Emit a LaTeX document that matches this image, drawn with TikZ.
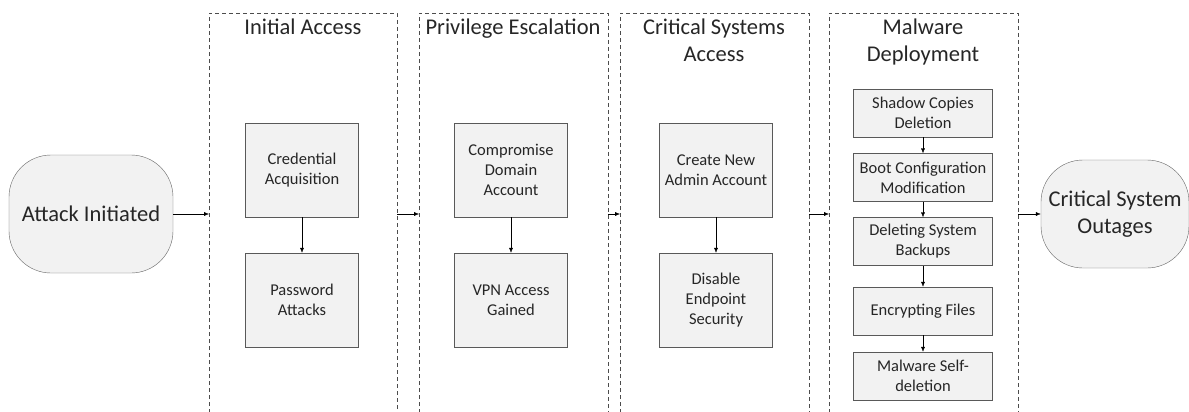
\documentclass[tikz,border=0pt]{standalone}
\usepackage{fontspec}
\setmainfont{Carlito}
\usetikzlibrary{arrows.meta}

\begin{document}
\begin{tikzpicture}[x=1pt,y=-1pt,
    every node/.style={text=black!85},
    terminal/.style={draw=black!60, fill=black!5, rounded corners=42pt,
      minimum width=164pt, minimum height=118pt, align=center, font=\fontsize{22.5}{27}\selectfont},
    stepbox/.style={draw=black!65, fill=black!5, minimum width=113pt, minimum height=94pt,
      align=center, font=\fontsize{16.5}{20}\selectfont},
    smallbox/.style={draw=black!65, fill=black!5, minimum width=139pt, minimum height=48pt,
      align=center, font=\fontsize{16.5}{20}\selectfont},
    stage/.style={draw=black!70, dash pattern=on 4pt off 3pt},
    title/.style={align=center, font=\fontsize{22.5}{27}\selectfont, anchor=north},
    link/.style={draw=black, -{Latex[length=5pt,width=4pt]}}]
  \useasboundingbox (0,0) rectangle (1189,412);

  % dashed stage columns (open at the bottom)
  \foreach \l/\r/\name in {209/397/one,419/608/two,620/809/three,829/1018/four}{
    \draw[stage] (\l,420) -- (\l,13) -- (\r,13) -- (\r,420);
    \coordinate (\name-in) at (\l,214);
    \coordinate (\name-out) at (\r,214);
  }

  % stage titles
  \node[title] (t1) at (303,15) {Initial Access};
  \node[title] (t2) at (513,15) {Privilege Escalation};
  \node[title] (t3) at (714,15) {Critical Systems\\Access};
  \node[title] (t4) at (923,15) {Malware\\Deployment};

  % start and end
  \node[terminal] (start) at (91,214) {Attack Initiated};
  \node[terminal, minimum width=148pt, minimum height=108pt] (stop) at (1115,214) {Critical System\\Outages};

  % stage boxes
  \node[stepbox] (cred) at (302,170) {Credential\\Acquisition};
  \node[stepbox] (pass) at (302,300) {Password\\Attacks};
  \node[stepbox] (dom) at (511,170) {Compromise\\Domain\\Account};
  \node[stepbox] (vpn) at (511,300) {VPN Access\\Gained};
  \node[stepbox] (adm) at (716,170) {Create New\\Admin Account};
  \node[stepbox] (edr) at (716,300) {Disable\\Endpoint\\Security};

  \node[smallbox] (shadow) at (923,113) {Shadow Copies\\Deletion};
  \node[smallbox] (boot) at (923,177.5) {Boot Configuration\\Modification};
  \node[smallbox] (backup) at (923,241.5) {Deleting System\\Backups};
  \node[smallbox] (enc) at (923,311) {Encrypting Files};
  \node[smallbox] (self) at (923,376) {Malware Self-\\deletion};

  % flow between stages
  \draw[link] (start) -- (one-in);
  \draw[link] (one-out) -- (two-in);
  \draw[link] (two-out) -- (three-in);
  \draw[link] (three-out) -- (four-in);
  \draw[link] (four-out) -- (stop);

  % flow inside stages
  \draw[link] (cred) -- (pass);
  \draw[link] (dom) -- (vpn);
  \draw[link] (adm) -- (edr);
  \draw[link] (shadow) -- (boot);
  \draw[link] (boot) -- (backup);
  \draw[link] (backup) -- (enc);
  \draw[link] (enc) -- (self);
\end{tikzpicture}
\end{document}
